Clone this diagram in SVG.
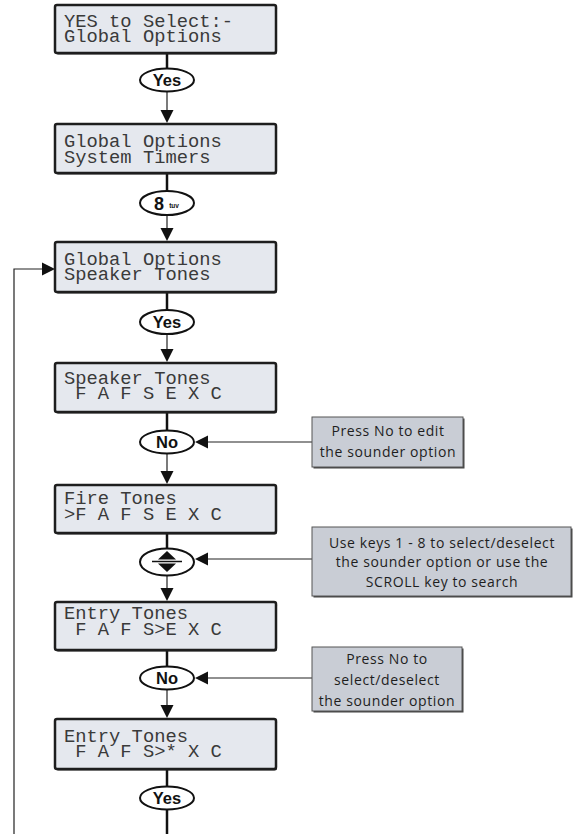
<svg xmlns="http://www.w3.org/2000/svg" width="574" height="834" viewBox="0 0 574 834">
<style>
.lcd{fill:#e5e8ee;stroke:#1e1e1e;stroke-width:2.5}
.lshadow{fill:#1e1e1e}
.lt{font-family:"Liberation Mono","DejaVu Sans Mono",monospace;font-size:18.8px;fill:#3a3a3a;white-space:pre}
.key{fill:#fff;stroke:#111;stroke-width:2}
.kt{font-family:"Liberation Sans",Arial,sans-serif;font-weight:bold;font-size:16.5px;fill:#111;text-anchor:middle}
.note{fill:#c9cdd5;stroke:#555;stroke-width:1}
.shadow{fill:#444}
.nt{font-family:"Open Sans","Noto Sans",sans-serif;font-size:14px;fill:#1e1e1e;text-anchor:middle;letter-spacing:0.6px}
.thick{stroke:#111;stroke-width:2.5;fill:none}
.thin{stroke:#222;stroke-width:1.2;fill:none}
.ah{fill:#111}
</style>

<g id="connectors">
  <line class="thick" x1="167" y1="53" x2="167" y2="69"/>
  <line class="thin" x1="167" y1="91" x2="167" y2="112"/>
  <polygon class="ah" points="160.5,110 173.5,110 167,123"/>
  <line class="thick" x1="167" y1="173" x2="167" y2="191"/>
  <line class="thin" x1="167" y1="215" x2="167" y2="230"/>
  <polygon class="ah" points="160.5,228 173.5,228 167,241"/>
  <line class="thick" x1="167" y1="292" x2="167" y2="310"/>
  <line class="thin" x1="167" y1="334" x2="167" y2="351"/>
  <polygon class="ah" points="160.5,349 173.5,349 167,362"/>
  <line class="thick" x1="167" y1="412" x2="167" y2="431"/>
  <line class="thin" x1="167" y1="453" x2="167" y2="473"/>
  <polygon class="ah" points="160.5,471 173.5,471 167,484"/>
  <line class="thick" x1="167" y1="533" x2="167" y2="549"/>
  <line class="thin" x1="167" y1="575" x2="167" y2="590"/>
  <polygon class="ah" points="160.5,588 173.5,588 167,601"/>
  <line class="thick" x1="167" y1="650" x2="167" y2="667"/>
  <line class="thin" x1="167" y1="689" x2="167" y2="707"/>
  <polygon class="ah" points="160.5,705 173.5,705 167,718"/>
  <line class="thick" x1="167" y1="769" x2="167" y2="787"/>
  <line class="thick" x1="167" y1="809" x2="167" y2="834"/>
  <polyline class="thin" points="14,834 14,269 44,269"/>
  <polygon class="ah" points="42,262.5 42,275.5 55,269"/>
  <line class="thin" x1="206" y1="442" x2="312" y2="442"/>
  <polygon class="ah" points="208,435.5 208,448.5 195,442"/>
  <line class="thin" x1="206" y1="559" x2="312" y2="559"/>
  <polygon class="ah" points="208,552.5 208,565.5 195,559"/>
  <line class="thin" x1="206" y1="678" x2="312" y2="678"/>
  <polygon class="ah" points="208,671.5 208,684.5 195,678"/>
</g>

<g id="lcd1">
  <rect class="lshadow" x="56" y="6.5" width="221" height="48" rx="2"/>
  <rect class="lcd" x="55" y="5" width="221" height="48" rx="2"/>
  <text class="lt" x="64" y="27">YES to Select:-</text>
  <text class="lt" x="64" y="42">Global Options</text>
</g>
<g id="key-yes1">
  <ellipse class="key" cx="167" cy="80" rx="27" ry="11.5"/>
  <text class="kt" x="167" y="86">Yes</text>
</g>
<g id="lcd2">
  <rect class="lshadow" x="56" y="125.5" width="221" height="49" rx="2"/>
  <rect class="lcd" x="55" y="124" width="221" height="49" rx="2"/>
  <text class="lt" x="64" y="146.5">Global Options</text>
  <text class="lt" x="64" y="162.5">System Timers</text>
</g>
<g id="key-8">
  <ellipse class="key" cx="167" cy="203" rx="27" ry="12"/>
  <text x="159" y="209.5" font-family="Liberation Sans,Arial,sans-serif" font-weight="bold" font-size="18" fill="#111" text-anchor="middle">8</text>
  <text x="174" y="208" font-family="Liberation Sans,Arial,sans-serif" font-weight="bold" font-size="6.5" fill="#111" text-anchor="middle">tuv</text>
</g>
<g id="lcd3">
  <rect class="lshadow" x="56" y="243.5" width="221" height="50" rx="2"/>
  <rect class="lcd" x="55" y="242" width="221" height="50" rx="2"/>
  <text class="lt" x="64" y="265">Global Options</text>
  <text class="lt" x="64" y="280">Speaker Tones</text>
</g>
<g id="key-yes2">
  <ellipse class="key" cx="167" cy="322" rx="27" ry="12"/>
  <text class="kt" x="167" y="328">Yes</text>
</g>
<g id="lcd4">
  <rect class="lshadow" x="56" y="364.5" width="221" height="49" rx="2"/>
  <rect class="lcd" x="55" y="363" width="221" height="49" rx="2"/>
  <text class="lt" x="64" y="384">Speaker Tones</text>
  <text class="lt" x="64" y="399"> F A F S E X C</text>
</g>
<g id="key-no1">
  <ellipse class="key" cx="167" cy="442" rx="27" ry="11.5"/>
  <text class="kt" x="167" y="448">No</text>
</g>
<g id="note1">
  <rect class="shadow" x="313.5" y="418.5" width="151" height="50"/>
  <rect class="note" x="312" y="417" width="151" height="50"/>
  <text class="nt" x="388" y="436">Press No to edit</text>
  <text class="nt" x="388" y="457">the sounder option</text>
</g>
<g id="lcd5">
  <rect class="lshadow" x="56" y="486.5" width="221" height="48" rx="2"/>
  <rect class="lcd" x="55" y="485" width="221" height="48" rx="2"/>
  <text class="lt" x="64" y="504">Fire Tones</text>
  <text class="lt" x="64" y="520">&gt;F A F S E X C</text>
</g>
<g id="key-scroll">
  <ellipse class="key" cx="167" cy="562" rx="27" ry="13.5"/>
  <line x1="152" y1="561.5" x2="182" y2="561.5" stroke="#111" stroke-width="1.5"/>
  <polygon fill="#111" points="158,559.5 176,559.5 167,551"/>
  <polygon fill="#111" points="158,563.5 176,563.5 167,572"/>
</g>
<g id="note2">
  <rect class="shadow" x="313.5" y="528.5" width="259" height="69"/>
  <rect class="note" x="312" y="527" width="259" height="69"/>
  <text class="nt" x="442" y="548">Use keys 1 - 8 to select/deselect</text>
  <text class="nt" x="442" y="567">the sounder option or use the</text>
  <text class="nt" x="442" y="587">SCROLL key to search</text>
</g>
<g id="lcd6">
  <rect class="lshadow" x="56" y="603.5" width="221" height="48" rx="2"/>
  <rect class="lcd" x="55" y="602" width="221" height="48" rx="2"/>
  <text class="lt" x="64" y="619">Entry Tones</text>
  <text class="lt" x="64" y="635"> F A F S&gt;E X C</text>
</g>
<g id="key-no2">
  <ellipse class="key" cx="167" cy="678" rx="27" ry="11.5"/>
  <text class="kt" x="167" y="684">No</text>
</g>
<g id="note3">
  <rect class="shadow" x="313.5" y="648.5" width="150" height="64"/>
  <rect class="note" x="312" y="647" width="150" height="64"/>
  <text class="nt" x="387" y="664">Press No to</text>
  <text class="nt" x="387" y="685">select/deselect</text>
  <text class="nt" x="387" y="706">the sounder option</text>
</g>
<g id="lcd7">
  <rect class="lshadow" x="56" y="720.5" width="221" height="50" rx="2"/>
  <rect class="lcd" x="55" y="719" width="221" height="50" rx="2"/>
  <text class="lt" x="64" y="742">Entry Tones</text>
  <text class="lt" x="64" y="757"> F A F S&gt;* X C</text>
</g>
<g id="key-yes3">
  <ellipse class="key" cx="167" cy="798" rx="27" ry="11.5"/>
  <text class="kt" x="167" y="804">Yes</text>
</g>
</svg>
